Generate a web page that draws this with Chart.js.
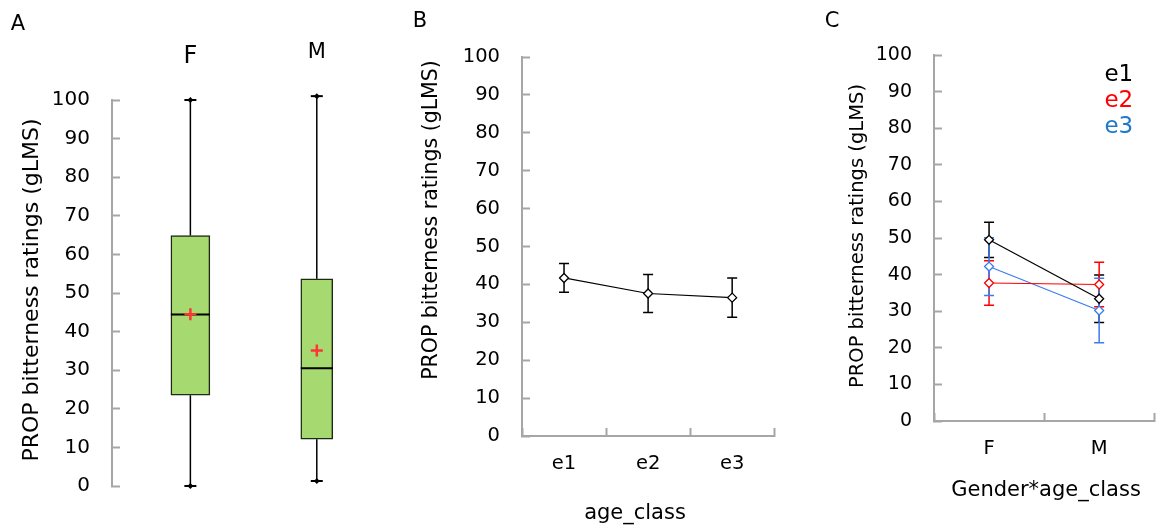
<!DOCTYPE html>
<html>
<head>
<meta charset="utf-8">
<script src="https://cdn.jsdelivr.net/npm/chart.js@4.4.1/dist/chart.umd.min.js"></script>
<style>
  html, body { margin: 0; padding: 0; background: #fff; }
  #wrap { position: relative; width: 1160px; height: 528px; overflow: hidden; background: #fff; }
  #wrap canvas { position: absolute; top: 0; }
</style>
</head>
<body>
<div id="wrap">
  <canvas id="panelA" width="390" height="528" style="left:0px"></canvas>
  <canvas id="panelB" width="390" height="528" style="left:390px"></canvas>
  <canvas id="panelC" width="380" height="528" style="left:780px"></canvas>
</div>
<script>
// ---- values ----
const yTickValues = [0, 10, 20, 30, 40, 50, 60, 70, 80, 90, 100];

// A: box plots of PROP ratings by gender
const genders = ['F', 'M'];
const boxMin = [0, 1.3];
const boxQ1 = [23.5, 12.1];
const boxMedian = [44.4, 30.5];
const boxQ3 = [64.9, 53.7];
const boxMax = [100, 101];
const boxMean = [44.5, 35.1];

// B: mean rating (± error) per age class
const ageClasses = ['e1', 'e2', 'e3'];
const ageMeans = [41.7, 37.6, 36.5];
const ageErrors = [3.8, 5.0, 5.2];

// C: gender x age class interaction
const interactionGroups = ['F', 'M'];
const seriesNames = ['e1', 'e2', 'e3'];
const e1Means = [49.5, 33.4];
const e1Errors = [4.8, 6.5];
const e2Means = [37.7, 37.3];
const e2Errors = [6.1, 6.1];
const e3Means = [42.2, 30.2];
const e3Errors = [7.9, 8.8];

// ---- styling ----
const FONT = 'DejaVu Sans';
const AXIS_GRAY = '#a6a6a6';
const BOX_FILL = '#a6d96f';
const BOX_EDGE = '#1f2a14';
const MEAN_RED = '#ff3535';
const boxWidths = [39, 32];
const lineColors = ['#000000', '#ff0000', '#3b7cee'];
const legendColors = ['#000000', '#ff0000', '#1f78c8'];

Chart.defaults.font.family = FONT;
Chart.defaults.color = '#000';

function yScale(labelSize, width) {
  return {
    type: 'linear', min: 0, max: 100,
    afterBuildTicks: s => { s.ticks = yTickValues.map(v => ({ value: v })); },
    afterFit: s => { s.width = width; },
    border: { display: true, color: AXIS_GRAY, width: 2 },
    grid: { drawOnChartArea: false, drawTicks: true, tickLength: -8, tickColor: AXIS_GRAY, tickWidth: 2 },
    ticks: { padding: 30, color: '#000', font: { family: FONT, size: labelSize }, callback: v => String(v) }
  };
}

function categoryAxis(labelSize, height, padding) {
  return {
    type: 'category', offset: true,
    afterFit: s => { s.height = height; },
    border: { display: true, color: AXIS_GRAY, width: 2 },
    grid: { offset: true, drawOnChartArea: false, drawTicks: true, tickLength: -8, tickColor: AXIS_GRAY, tickWidth: 2 },
    ticks: { padding: padding, color: '#000', maxRotation: 0, autoSkip: false, font: { family: FONT, size: labelSize } }
  };
}

// free text: panel letters and axis captions
function captions(items) {
  return {
    id: 'captions',
    afterDraw(chart) {
      const ctx = chart.ctx;
      items.forEach(it => {
        ctx.save();
        ctx.font = it.size + 'px "' + FONT + '"';
        ctx.fillStyle = '#000';
        ctx.textAlign = 'center';
        ctx.textBaseline = 'middle';
        ctx.translate(it.x, it.y);
        if (it.rotate) ctx.rotate(-Math.PI / 2);
        ctx.fillText(it.text, 0, 0);
        ctx.restore();
      });
    }
  };
}

// vertical error bars with caps, drawn beneath the markers
const errorBars = {
  id: 'errorBars',
  beforeDatasetsDraw(chart) {
    const ctx = chart.ctx;
    const ys = chart.scales.y;
    chart.data.datasets.forEach((ds, di) => {
      if (!ds.errors) return;
      const meta = chart.getDatasetMeta(di);
      ctx.save();
      ctx.strokeStyle = ds.borderColor;
      ctx.lineWidth = 1.5;
      meta.data.forEach((pt, i) => {
        const v = ds.data[i], e = ds.errors[i];
        const top = ys.getPixelForValue(v + e);
        const bot = ys.getPixelForValue(v - e);
        const x = pt.x;
        ctx.beginPath();
        ctx.moveTo(x, top); ctx.lineTo(x, bot);
        ctx.moveTo(x - 5, top); ctx.lineTo(x + 5, top);
        ctx.moveTo(x - 5, bot); ctx.lineTo(x + 5, bot);
        ctx.stroke();
      });
      ctx.restore();
    });
  }
};

// whiskers, median and mean marks on top of the box bars
const boxWhiskers = {
  id: 'boxWhiskers',
  afterDatasetsDraw(chart) {
    const ctx = chart.ctx;
    const xs = chart.scales.x, ys = chart.scales.y;
    const seg = (x1, y1, x2, y2) => { ctx.beginPath(); ctx.moveTo(x1, y1); ctx.lineTo(x2, y2); ctx.stroke(); };
    genders.forEach((g, i) => {
      const x = xs.getPixelForValue(i + 1);
      const half = boxWidths[i] / 2;
      const yMax = ys.getPixelForValue(boxMax[i]);
      const yMin = ys.getPixelForValue(boxMin[i]);
      const yQ1 = ys.getPixelForValue(boxQ1[i]);
      const yQ3 = ys.getPixelForValue(boxQ3[i]);
      const yMed = ys.getPixelForValue(boxMedian[i]);
      const yMean = ys.getPixelForValue(boxMean[i]);
      ctx.save();
      ctx.strokeStyle = '#000';
      ctx.lineWidth = 1.5;
      seg(x, yQ3, x, yMax);
      seg(x, yQ1, x, yMin);
      ctx.lineWidth = 2;
      seg(x - 6, yMax, x + 6, yMax);
      seg(x - 6, yMin, x + 6, yMin);
      ctx.fillStyle = '#000';
      [yMax, yMin].forEach(yy => {
        ctx.beginPath();
        ctx.moveTo(x, yy - 3); ctx.lineTo(x + 3, yy); ctx.lineTo(x, yy + 3); ctx.lineTo(x - 3, yy);
        ctx.closePath(); ctx.fill();
      });
      seg(x - half, yMed, x + half, yMed);
      ctx.strokeStyle = MEAN_RED;
      ctx.lineWidth = 2.5;
      seg(x - 6, yMean, x + 6, yMean);
      seg(x, yMean - 6, x, yMean + 6);
      ctx.restore();
    });
  }
};

// series names in matching colours, top-right of the plot
const seriesLegend = {
  id: 'seriesLegend',
  afterDraw(chart) {
    const ctx = chart.ctx;
    const area = chart.chartArea;
    ctx.save();
    ctx.font = '23px "' + FONT + '"';
    ctx.textAlign = 'right';
    ctx.textBaseline = 'middle';
    chart.data.datasets.forEach((ds, i) => {
      ctx.fillStyle = legendColors[i];
      ctx.fillText(ds.label, area.right - 21, area.top + 20 + i * 26);
    });
    ctx.restore();
  }
};

const baseOptions = {
  responsive: false,
  animation: false,
  devicePixelRatio: 1,
  plugins: { legend: { display: false }, tooltip: { enabled: false } }
};

// ---- A ----
new Chart(document.getElementById('panelA'), {
  type: 'bar',
  data: {
    datasets: genders.map((g, i) => ({
      label: g,
      data: [{ x: i + 1, y: [boxQ1[i], boxQ3[i]] }],
      backgroundColor: BOX_FILL,
      borderColor: BOX_EDGE,
      borderWidth: 1.5,
      borderSkipped: false,
      barThickness: boxWidths[i],
      grouped: false
    }))
  },
  options: {
    ...baseOptions,
    layout: { padding: { left: 0, right: 10, top: 0, bottom: 41 } },
    scales: {
      x: {
        type: 'linear', position: 'top', min: 0.38, max: 2.5, offset: false,
        afterBuildTicks: s => { s.ticks = genders.map((g, i) => ({ value: i + 1 })); },
        afterFit: s => { s.height = 100; },
        border: { display: false },
        grid: { display: false, drawTicks: false, offset: false },
        ticks: {
          padding: 20, color: '#000', maxRotation: 0, autoSkip: false,
          callback: (v, i) => genders[i],
          font: c => c.index === 0
            ? { family: FONT, size: 24, lineHeight: '46px' }
            : { family: FONT, size: 21, lineHeight: '54px' }
        }
      },
      y: yScale(20, 112)
    }
  },
  plugins: [boxWhiskers, captions([
    { text: 'A', x: 18, y: 25, size: 21 },
    { text: 'PROP bitterness ratings (gLMS)', x: 32, y: 290, size: 22, rotate: true }
  ])]
});

// ---- B ----
new Chart(document.getElementById('panelB'), {
  type: 'line',
  data: {
    labels: ageClasses,
    datasets: [{
      label: 'mean',
      data: ageMeans,
      errors: ageErrors,
      borderColor: '#000',
      borderWidth: 1.2,
      tension: 0,
      pointStyle: 'rectRot',
      pointRadius: 4.5,
      pointBackgroundColor: '#fff',
      pointBorderColor: '#000',
      pointBorderWidth: 1.3
    }]
  },
  options: {
    ...baseOptions,
    layout: { padding: { left: 0, right: 4, top: 57, bottom: 32 } },
    scales: {
      x: categoryAxis(19.5, 60, 24),
      y: yScale(19.5, 132)
    }
  },
  plugins: [errorBars, captions([
    { text: 'B', x: 30, y: 22, size: 21 },
    { text: 'PROP bitterness ratings (gLMS)', x: 42, y: 220, size: 20.5, rotate: true },
    { text: 'age_class', x: 245, y: 514, size: 21 }
  ])]
});

// ---- C ----
const cMeans = [e1Means, e2Means, e3Means];
const cErrors = [e1Errors, e2Errors, e3Errors];
new Chart(document.getElementById('panelC'), {
  type: 'line',
  data: {
    labels: interactionGroups,
    datasets: seriesNames.map((name, i) => ({
      label: name,
      data: cMeans[i],
      errors: cErrors[i],
      borderColor: lineColors[i],
      borderWidth: 1.2,
      tension: 0,
      pointStyle: 'rectRot',
      pointRadius: 4.5,
      pointBackgroundColor: '#fff',
      pointBorderColor: lineColors[i],
      pointBorderWidth: 1.3
    }))
  },
  options: {
    ...baseOptions,
    layout: { padding: { left: 0, right: 4, top: 55, bottom: 47 } },
    scales: {
      x: categoryAxis(19.5, 60, 24),
      y: yScale(19, 154)
    }
  },
  plugins: [errorBars, seriesLegend, captions([
    { text: 'C', x: 52, y: 22, size: 21 },
    { text: 'PROP bitterness ratings (gLMS)', x: 78, y: 236, size: 19.5, rotate: true },
    { text: 'Gender*age_class', x: 266, y: 491, size: 21 }
  ])]
});
</script>
</body>
</html>
